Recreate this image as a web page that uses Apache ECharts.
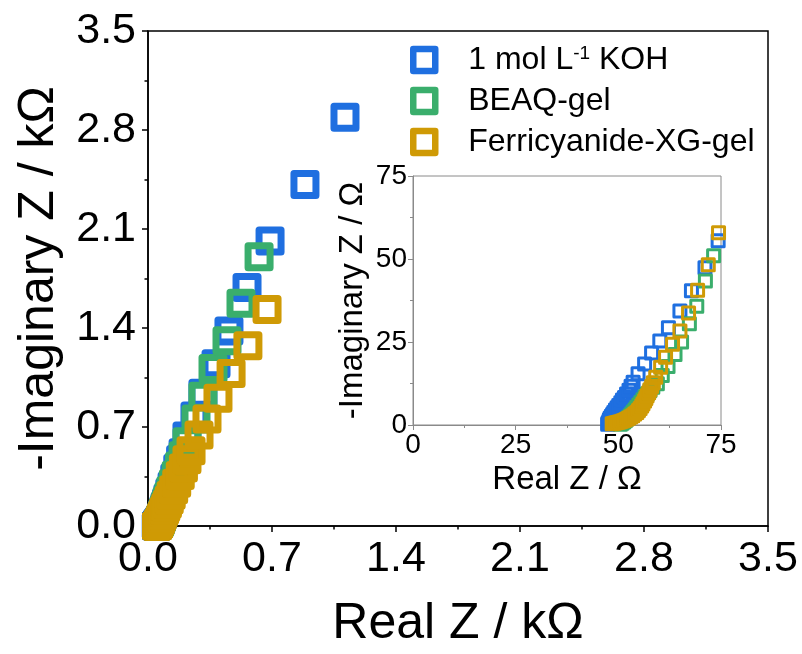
<!DOCTYPE html>
<html>
<head>
<meta charset="utf-8">
<script src="https://cdn.jsdelivr.net/npm/echarts@6/dist/echarts.min.js"></script>
<style>
  html, body { margin: 0; padding: 0; background: #fff; }
  #chart { width: 802px; height: 654px; }
</style>
</head>
<body>
<div id="chart"></div>
<script>
// impedance data in ohm, [real, -imaginary]
const seriesNames = ['1 mol L-1 KOH', 'BEAQ-gel', 'Ferricyanide-XG-gel'];
const seriesColors = ['#1f6fe0', '#3aae6c', '#cf9a05'];

const kohData = [
  [47.4, 0.2], [47.5, 0.6], [47.7, 1.0], [47.8, 1.5], [48.0, 2.0], [48.3, 2.6], [48.6, 3.2],
  [48.9, 3.8], [49.3, 4.5], [49.7, 5.2], [50.1, 5.9], [50.6, 6.7], [51.0, 7.5], [51.5, 8.3],
  [52.0, 9.3], [52.6, 10.5], [53.1, 11.7], [53.6, 12.9], [54.8, 15.4], [56.4, 18.4], [58.1, 21.7],
  [60.1, 25.3], [62.2, 29.3], [65.0, 34.3], [67.8, 40.4], [71.1, 47.4], [74.3, 55.5],
  [77.5, 66], [81, 79], [85, 95], [90, 114], [96, 137], [104, 164],
  [112, 197], [123, 236], [136, 283], [151, 340], [168, 408], [184, 470], [198, 518], [220, 637],
  [265, 777], [310, 938], [384, 1148], [457, 1379], [559, 1687], [689, 2016], [886, 2415], [1112, 2891]
];
const beaqData = [
  [50.5, 0.2], [50.9, 0.5], [51.3, 0.9], [51.7, 1.3], [52.1, 1.8], [52.5, 2.3], [52.9, 2.8],
  [53.3, 3.4], [53.7, 4.0], [54.1, 4.6], [54.5, 5.3], [55.0, 6.0], [55.5, 6.8], [56.0, 7.6],
  [56.5, 8.5], [57.1, 9.4], [57.7, 10.4], [58.4, 11.4], [59.5, 12.4], [60.7, 14.9], [62.1, 17.6],
  [63.8, 21.2], [65.4, 25.0], [67.3, 30.5], [69.1, 35.8], [71.2, 43.4], [73.2, 51.0],
  [76, 60], [79.5, 72], [83.5, 86], [88, 103], [94, 123], [100, 147], [108, 176], [118, 210],
  [129, 251], [143, 300], [159, 358], [178, 425], [198, 497], [220, 595], [271, 756], [310, 917],
  [367, 1113], [446, 1309], [525, 1575], [627, 1904]
];
const ferriData = [
  [48.5, 0.4], [49.0, 0.5], [49.5, 0.7], [50.0, 0.8], [50.5, 1.0], [51.0, 1.2], [51.5, 1.4],
  [52.0, 1.7], [52.5, 2.0], [53.0, 2.4], [53.5, 2.8], [54.0, 3.3], [54.5, 3.8], [54.9, 4.4],
  [55.3, 5.0], [55.7, 5.7], [56.0, 6.4], [56.4, 7.2], [56.7, 8.0], [57.0, 8.8], [57.4, 9.7],
  [57.7, 10.6], [58.1, 11.6], [58.5, 12.7], [59.1, 14.4], [60.3, 17.4], [61.5, 20.4], [63.2, 24.3],
  [65.0, 28.3], [67.1, 33.7], [69.3, 40.6], [71.9, 48.3], [74.4, 57.9],
  [78, 68], [82, 80], [87.5, 95], [94, 112], [101, 132], [110, 156], [120, 184],
  [131, 217], [145, 256], [162, 302], [182, 357], [200, 410], [220, 468], [243, 532], [288, 644],
  [333, 756], [395, 903], [469, 1078], [564, 1274], [672, 1530]
];

const mainTicks = [0, 0.7, 1.4, 2.1, 2.8, 3.5];   // kOhm
const insetTicks = [0, 25, 50, 75];               // Ohm

const allData = [kohData, beaqData, ferriData];
const font = "'Liberation Sans', Arial, sans-serif";

function toKilo(arr) {
  return arr.map(p => [p[0] / 1000, p[1] / 1000]);
}

function mainAxis(name, gap) {
  return {
    type: 'value',
    gridIndex: 0,
    min: mainTicks[0],
    max: mainTicks[mainTicks.length - 1],
    interval: 0.7,
    name: name,
    nameLocation: 'middle',
    nameGap: gap,
    nameTextStyle: { fontFamily: font, fontSize: 50, color: '#000' },
    axisLine: { show: true, onZero: false, lineStyle: { color: '#000', width: 1.5 } },
    axisTick: { show: true, inside: false, length: 6, lineStyle: { color: '#000', width: 1.5 } },
    minorTick: { show: true, splitNumber: 2, length: 3.5, lineStyle: { color: '#000', width: 1.5 } },
    splitLine: { show: false },
    axisLabel: {
      fontFamily: font, fontSize: 43, color: '#000', margin: 12,
      formatter: v => v.toFixed(1)
    }
  };
}

function insetAxis(name, gap) {
  return {
    type: 'value',
    gridIndex: 1,
    min: insetTicks[0],
    max: insetTicks[insetTicks.length - 1],
    interval: 25,
    name: name,
    nameLocation: 'middle',
    nameGap: gap,
    nameTextStyle: { fontFamily: font, fontSize: 33, color: '#000' },
    axisLine: { show: true, onZero: false, lineStyle: { color: '#8a8a8a', width: 1 } },
    axisTick: { show: true, inside: false, length: 5, lineStyle: { color: '#8a8a8a', width: 1 } },
    minorTick: { show: true, splitNumber: 2, length: 3, lineStyle: { color: '#8a8a8a', width: 1 } },
    splitLine: { show: false },
    axisLabel: { fontFamily: font, fontSize: 28, color: '#000', margin: 6 }
  };
}

const series = [];
allData.forEach((d, i) => {
  series.push({
    name: seriesNames[i],
    type: 'scatter',
    xAxisIndex: 0, yAxisIndex: 0,
    data: toKilo(d),
    symbol: 'rect',
    symbolSize: 22,
    itemStyle: { color: 'transparent', borderColor: seriesColors[i], borderWidth: 7, borderJoin: 'round', opacity: 1 },
    emphasis: { disabled: true }
  });
});
allData.forEach((d, i) => {
  series.push({
    name: seriesNames[i],
    type: 'scatter',
    xAxisIndex: 1, yAxisIndex: 1,
    data: d,
    symbol: 'rect',
    symbolSize: 12,
    itemStyle: { color: 'transparent', borderColor: seriesColors[i], borderWidth: 3, borderJoin: 'round', opacity: 1 },
    emphasis: { disabled: true }
  });
});

const chart = echarts.init(document.getElementById('chart'), null, { renderer: 'canvas' });
chart.setOption({
  backgroundColor: '#fff',
  animation: false,
  grid: [
    { left: 148, top: 31, width: 620, height: 500, show: true, borderColor: '#000', borderWidth: 1.5, backgroundColor: 'transparent' },
    { left: 413, top: 176, width: 308, height: 249, show: true, borderColor: '#8a8a8a', borderWidth: 1, backgroundColor: '#fff' }
  ],
  xAxis: [
    mainAxis('Real Z / kΩ', 73),
    insetAxis('Real Z / Ω', 38)
  ],
  yAxis: [
    mainAxis('-Imaginary Z / kΩ', 84),
    insetAxis('-Imaginary Z / Ω', 44)
  ],
  legend: {
    orient: 'vertical',
    left: 405,
    top: 39,
    itemWidth: 22,
    itemHeight: 22,
    itemGap: 9,
    icon: 'rect',
    data: seriesNames,
    itemStyle: { color: 'transparent', borderWidth: 6.5, borderJoin: 'round' },
    formatter: n => n === seriesNames[0] ? '1 mol L{sup|-1} KOH' : n,
    textStyle: {
      fontFamily: font, fontSize: 32, color: '#000', lineHeight: 32,
      padding: [0, 0, 0, 28],
      rich: {
        sup: { fontFamily: font, fontSize: 19, color: '#000', verticalAlign: 'top', lineHeight: 19, padding: [0, 0, 13, 0] }
      }
    }
  },
  series: series
});
</script>
</body>
</html>
